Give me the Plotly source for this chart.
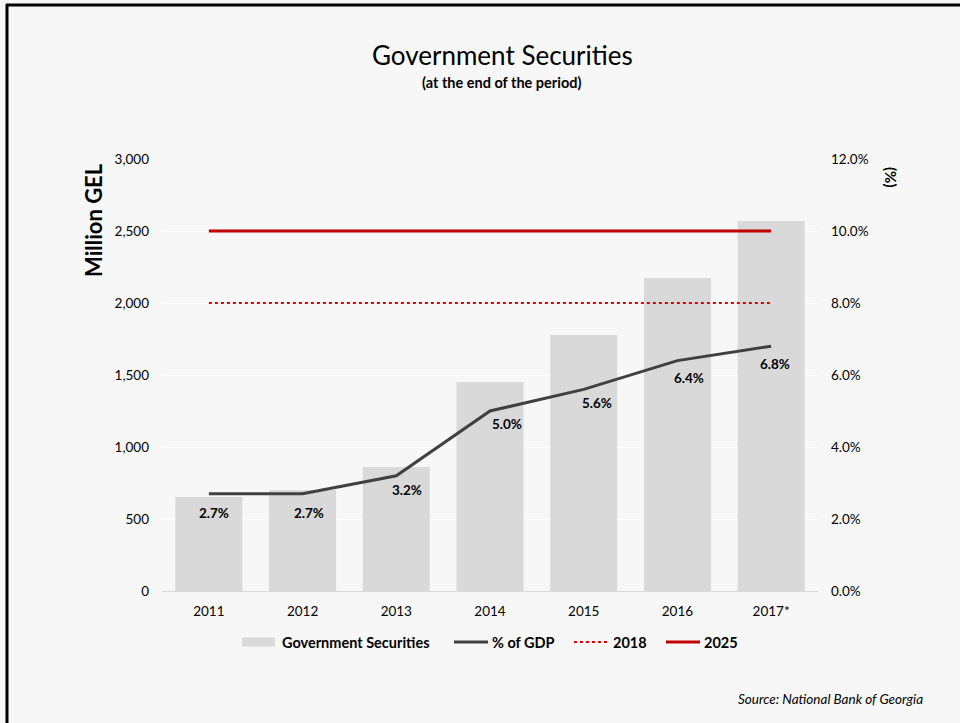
import plotly.graph_objects as go

# Data
years = ["2011", "2012", "2013", "2014", "2015", "2016", "2017*"]
securities_mln_gel = [653, 701, 861, 1451, 1778, 2174, 2569]
pct_of_gdp = [2.7, 2.7, 3.2, 5.0, 5.6, 6.4, 6.8]
target_2018 = [8.0, 8.0, 8.0, 8.0, 8.0, 8.0, 8.0]
target_2025 = [10.0, 10.0, 10.0, 10.0, 10.0, 10.0, 10.0]
pct_ticks = [0, 2, 4, 6, 8, 10, 12]
amount_ticks = [0, 500, 1000, 1500, 2000, 2500, 3000]

FONT = "Lato, 'Open Sans', sans-serif"
BG = "#f7f7f7"
BAR_COLOR = "#d9d9d9"
GDP_COLOR = "#404040"
RED_2018 = "#e00000"
RED_2025 = "#c00000"

# Page geometry (pixels)
W, H = 960, 723
L, R, T, B = 162, 142, 159, 132
pw, ph = W - L - R, H - T - B


def px_x(v):
    return (v - L) / pw


def px_y(v):
    return (H - B - v) / ph


fig = go.Figure()

fig.add_trace(go.Bar(
    x=years, y=securities_mln_gel, name="Government Securities",
    marker=dict(color=BAR_COLOR, line=dict(width=0)),
    yaxis="y",
))
fig.add_trace(go.Scatter(
    x=years, y=pct_of_gdp, name="% of GDP", mode="lines",
    line=dict(color=GDP_COLOR, width=3),
    yaxis="y2",
))
fig.add_trace(go.Scatter(
    x=years, y=target_2018, name="2018", mode="lines",
    line=dict(color=RED_2018, width=2, dash="dot"),
    yaxis="y2",
))
fig.add_trace(go.Scatter(
    x=years, y=target_2025, name="2025", mode="lines",
    line=dict(color=RED_2025, width=3),
    yaxis="y2",
))

annotations = []

# Value labels under each point of the % of GDP line (x given as category index)
label_dx = [5, 6, 11, 17, 13, 12, 4]
label_dy = [-19, -19, -14, -13, -14, -17, -18]
for i, v in enumerate(pct_of_gdp):
    annotations.append(dict(
        x=i, y=v, xref="x", yref="y2", text=f"<b>{v:.1f}%</b>",
        showarrow=False, xshift=label_dx[i], yshift=label_dy[i],
        xanchor="center", yanchor="middle",
        font=dict(size=13.5, color="#000000"),
    ))

# Titles and notes (pixel positions)
page_texts = [
    dict(text="Government Securities", px=502, py=55, size=26, xanchor="center"),
    dict(text="<b>(at the end of the period)</b>", px=501, py=82, size=14.5, xanchor="center"),
    dict(text="<b>Million GEL</b>", px=93, py=220, size=22, xanchor="center", angle=-90),
    dict(text="<b>(%)</b>", px=891, py=177, size=15, xanchor="center", angle=90),
    dict(text="<i>Source: National Bank of Georgia</i>", px=925, py=699, size=13.5, xanchor="right"),
]
for t in page_texts:
    annotations.append(dict(
        text=t["text"], x=px_x(t["px"]), y=px_y(t["py"]), xref="paper", yref="paper",
        xanchor=t["xanchor"], yanchor="middle", textangle=t.get("angle", 0),
        showarrow=False, font=dict(size=t["size"], color="#000000"),
    ))

# Legend row
legend_y = 642
legend_items = [
    dict(label="Government Securities", kind="bar", x0=242, x1=275, tx=280),
    dict(label="% of GDP", kind="line", color=GDP_COLOR, width=3, dash="solid", x0=454, x1=488, tx=490),
    dict(label="2018", kind="line", color=RED_2018, width=2, dash="dot", x0=574, x1=609, tx=611),
    dict(label="2025", kind="line", color=RED_2025, width=3, dash="solid", x0=666, x1=700, tx=702),
]
shapes = []
for it in legend_items:
    if it["kind"] == "bar":
        shapes.append(dict(type="rect", xref="paper", yref="paper",
                           x0=px_x(it["x0"]), x1=px_x(it["x1"]),
                           y0=px_y(legend_y + 4.5), y1=px_y(legend_y - 4.5),
                           fillcolor=BAR_COLOR, line=dict(width=0)))
    else:
        shapes.append(dict(type="line", xref="paper", yref="paper",
                           x0=px_x(it["x0"]), x1=px_x(it["x1"]),
                           y0=px_y(legend_y), y1=px_y(legend_y),
                           line=dict(color=it["color"], width=it["width"], dash=it["dash"])))
    annotations.append(dict(
        text=f"<b>{it['label']}</b>", x=px_x(it["tx"]), y=px_y(legend_y),
        xref="paper", yref="paper", xanchor="left", yanchor="middle",
        showarrow=False, font=dict(size=14.5, color="#000000"),
    ))

# Frame lines along the top and left edges of the page
shapes.append(dict(type="line", xref="paper", yref="paper",
                   x0=px_x(6), x1=px_x(960), y0=px_y(5), y1=px_y(5),
                   line=dict(color="#000000", width=3)))
shapes.append(dict(type="line", xref="paper", yref="paper",
                   x0=px_x(7), x1=px_x(7), y0=px_y(4), y1=px_y(723),
                   line=dict(color="#000000", width=3)))

fig.update_layout(
    width=W, height=H,
    paper_bgcolor=BG, plot_bgcolor=BG,
    margin=dict(l=L, r=R, t=T, b=B),
    font=dict(family=FONT, size=13, color="#000000"),
    bargap=0.285,
    showlegend=False,
    xaxis=dict(
        type="category", range=[-0.5, 6.5],
        showgrid=False, showline=True, linecolor=BAR_COLOR, linewidth=1,
        ticks="", tickfont=dict(size=13.5), ticklabelstandoff=8,
    ),
    yaxis=dict(
        range=[0, 3000], tickvals=amount_ticks,
        tickformat=",d", showgrid=True, gridcolor="#ffffff", gridwidth=1,
        zeroline=False, showline=False, ticks="",
        tickfont=dict(size=13.5), ticklabelstandoff=12,
    ),
    yaxis2=dict(
        range=[0, 12], tickvals=pct_ticks,
        ticktext=[f"{v:.1f}%" for v in pct_ticks],
        overlaying="y", side="right", showgrid=False, zeroline=False,
        showline=False, ticks="", tickfont=dict(size=13.5), ticklabelstandoff=12,
    ),
    annotations=annotations,
    shapes=shapes,
)

fig.write_html("out.html")
